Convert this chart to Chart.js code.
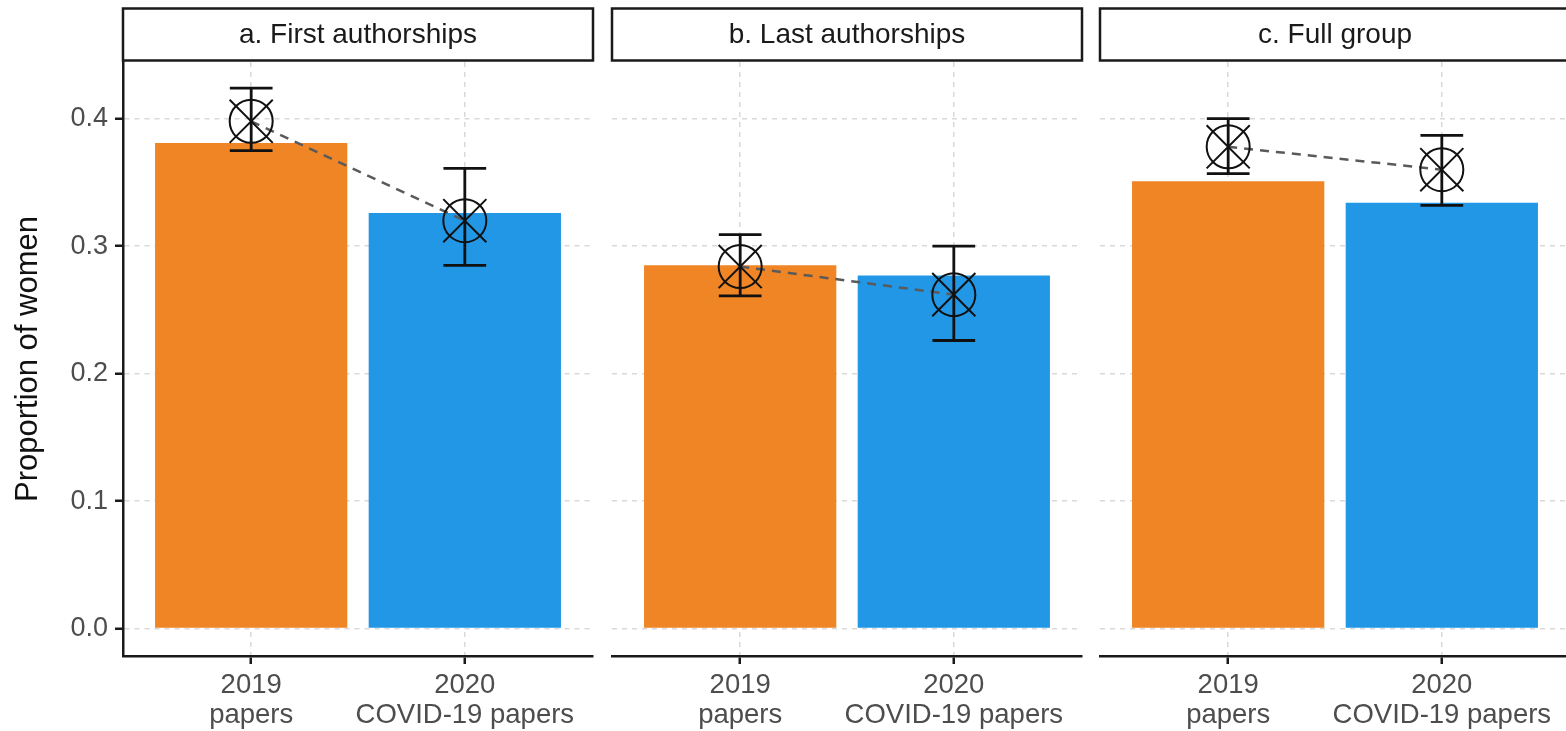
<!DOCTYPE html>
<html>
<head>
<meta charset="utf-8">
<title>Proportion of women among authors</title>
<script src="https://cdn.jsdelivr.net/npm/chart.js@4.4.1/dist/chart.umd.min.js"></script>
<style>
  html, body { margin: 0; padding: 0; background: #ffffff; width: 1566px; height: 731px; overflow: hidden; }
  canvas { position: absolute; top: 0; }
</style>
</head>
<body>
<canvas id="panelA" width="597" height="731" style="left:0px"></canvas>
<canvas id="panelB" width="478" height="731" style="left:608px"></canvas>
<canvas id="panelC" width="478" height="731" style="left:1096px"></canvas>
<script>
// Facet titles and the two compared groups
const panelTitles = ['a. First authorships', 'b. Last authorships', 'c. Full group'];
const categoryLabels = [['2019', 'papers'], ['2020', 'COVID-19 papers']];
const categoryPositions = [1, 2];
const barColors = ['#F08526', '#2297E6'];

// Bar heights (2019, 2020)
const barFirst = [0.381, 0.326];
const barLast  = [0.285, 0.277];
const barFull  = [0.351, 0.334];

// Point estimates with their interval bounds (2019, 2020)
const meanFirst  = [0.398, 0.320];
const lowerFirst = [0.375, 0.285];
const upperFirst = [0.424, 0.361];

const meanLast  = [0.284, 0.262];
const lowerLast = [0.261, 0.226];
const upperLast = [0.309, 0.300];

const meanFull  = [0.378, 0.360];
const lowerFull = [0.357, 0.332];
const upperFull = [0.400, 0.387];

// Shared value axis
const yTicks = [0, 0.1, 0.2, 0.3, 0.4];
const yTickLabels = ['0.0', '0.1', '0.2', '0.3', '0.4'];
const yMin = -0.0215;
const yMax = 0.4445;

const FONT = 'Liberation Sans, Arial, Helvetica, sans-serif';
Chart.defaults.font.family = FONT;

// Boxed facet label above each panel
const stripPlugin = {
  id: 'facetStrip',
  afterDraw(chart, args, opts) {
    const { ctx, chartArea } = chart;
    const top = 8.5, height = 52;
    ctx.save();
    ctx.fillStyle = '#ffffff';
    ctx.fillRect(chartArea.left, top, chartArea.right - chartArea.left, height);
    ctx.lineWidth = 2.5;
    ctx.strokeStyle = '#1a1a1a';
    ctx.strokeRect(chartArea.left, top, chartArea.right - chartArea.left, height);
    ctx.fillStyle = '#1a1a1a';
    ctx.font = '28px ' + FONT;
    ctx.textAlign = 'center';
    ctx.textBaseline = 'middle';
    ctx.fillText(opts.text, (chartArea.left + chartArea.right) / 2, top + height / 2 + 1);
    ctx.restore();
  }
};

// Vertical interval bars with caps, placed through the chart scales
const errorBarPlugin = {
  id: 'intervalBars',
  afterDatasetsDraw(chart, args, opts) {
    const { ctx } = chart;
    const xs = chart.scales.x, ys = chart.scales.y;
    ctx.save();
    ctx.strokeStyle = '#111111';
    ctx.lineWidth = 2.8;
    ctx.lineCap = 'butt';
    categoryPositions.forEach((x, i) => {
      const px = xs.getPixelForValue(x);
      const half = xs.getPixelForValue(x + opts.capWidth / 2) - px;
      const yLo = ys.getPixelForValue(opts.lower[i]);
      const yHi = ys.getPixelForValue(opts.upper[i]);
      ctx.beginPath();
      ctx.moveTo(px, yHi); ctx.lineTo(px, yLo);
      ctx.moveTo(px - half, yHi); ctx.lineTo(px + half, yHi);
      ctx.moveTo(px - half, yLo); ctx.lineTo(px + half, yLo);
      ctx.stroke();
    });
    ctx.restore();
  }
};

function makePanel(canvasId, title, bars, means, lower, upper, showY) {
  const barData = categoryPositions.map((x, i) => ({ x: x, y: bars[i] }));
  const pointData = categoryPositions.map((x, i) => ({ x: x, y: means[i] }));
  const gridColor = '#d9d9d9';
  const axisColor = '#1a1a1a';

  return new Chart(document.getElementById(canvasId), {
    type: 'bar',
    data: {
      datasets: [
        { // crossed part of the marker
          type: 'line', data: pointData, showLine: false, order: 0,
          pointStyle: 'crossRot', pointRadius: 30.5, pointBorderWidth: 2,
          pointBorderColor: '#111111', pointBackgroundColor: 'rgba(0,0,0,0)'
        },
        { // open circle of the marker
          type: 'line', data: pointData, showLine: false, order: 1,
          pointStyle: 'circle', pointRadius: 21.5, pointBorderWidth: 2,
          pointBorderColor: '#111111', pointBackgroundColor: 'rgba(0,0,0,0)'
        },
        { // dashed connector between the two estimates
          type: 'line', data: pointData, order: 2,
          borderColor: '#5a5a5a', borderWidth: 2.5, borderDash: [9, 7],
          pointRadius: 0, fill: false, tension: 0
        },
        {
          type: 'bar', data: barData, order: 3,
          backgroundColor: barColors, borderWidth: 0,
          barPercentage: 0.9, categoryPercentage: 1.0
        }
      ]
    },
    options: {
      responsive: false,
      animation: false,
      events: [],
      layout: { autoPadding: false, padding: { top: 62, bottom: 0, left: showY ? 0 : 4, right: 4 } },
      plugins: {
        legend: { display: false },
        tooltip: { enabled: false },
        facetStrip: { text: title },
        intervalBars: { lower: lower, upper: upper, capWidth: 0.2 }
      },
      scales: {
        x: {
          type: 'linear', min: 0.4, max: 2.6, offset: false,
          afterBuildTicks: s => { s.ticks = categoryPositions.map(v => ({ value: v })); },
          afterFit: s => { s.height = 75; s.paddingLeft = 0; s.paddingRight = 0; },
          ticks: {
            callback: (v, i) => categoryLabels[i],
            color: '#4d4d4d', font: { size: 27.5, lineHeight: 1.09 },
            padding: 6, maxRotation: 0, minRotation: 0, autoSkip: false
          },
          grid: {
            offset: false, color: gridColor, lineWidth: 1.5,
            tickLength: 8, tickColor: axisColor, tickWidth: 2.5, tickBorderDash: []
          },
          border: { display: true, color: axisColor, width: 2.5, dash: [5, 5] }
        },
        y: {
          type: 'linear', min: yMin, max: yMax,
          afterBuildTicks: s => { s.ticks = yTicks.map(v => ({ value: v })); },
          afterFit: s => { s.width = showY ? 123 : 0; s.paddingTop = 0; s.paddingBottom = 0; },
          ticks: {
            display: showY,
            callback: (v, i) => yTickLabels[i],
            color: '#4d4d4d', font: { size: 27 }, padding: 7
          },
          grid: {
            color: gridColor, lineWidth: 1.5, drawTicks: showY,
            tickLength: showY ? 8 : 0, tickColor: axisColor, tickWidth: 2.5, tickBorderDash: []
          },
          border: { display: showY, color: axisColor, width: 2.5, dash: [5, 5] },
          title: {
            display: showY, text: 'Proportion of women',
            color: '#111111', font: { size: 31 }, padding: { top: 10, bottom: 0 }
          }
        }
      }
    },
    plugins: [stripPlugin, errorBarPlugin]
  });
}

makePanel('panelA', panelTitles[0], barFirst, meanFirst, lowerFirst, upperFirst, true);
makePanel('panelB', panelTitles[1], barLast, meanLast, lowerLast, upperLast, false);
makePanel('panelC', panelTitles[2], barFull, meanFull, lowerFull, upperFull, false);
</script>
</body>
</html>
